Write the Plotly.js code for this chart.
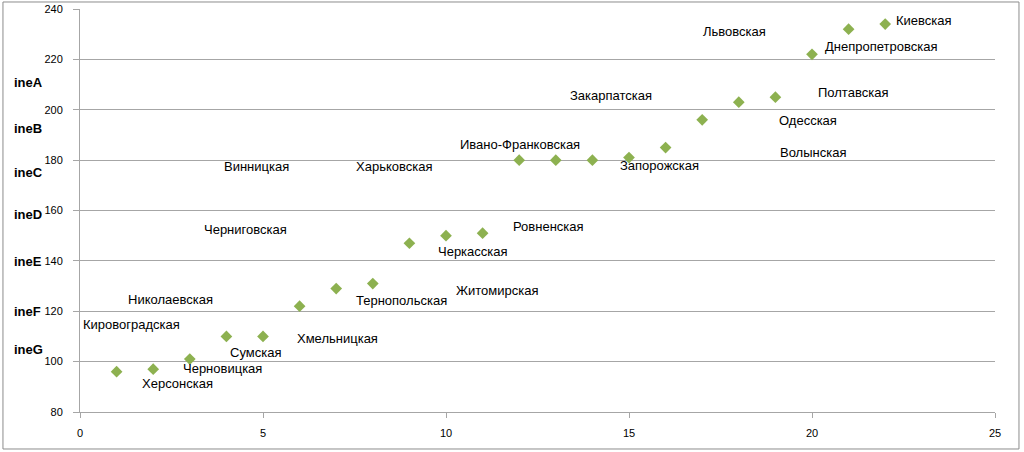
<!DOCTYPE html>
<html>
<head>
<meta charset="utf-8">
<script src="https://cdn.plot.ly/plotly-3.0.1.min.js"></script>
<style>html,body{margin:0;padding:0;background:#fff}#chart{width:1024px;height:452px}</style>
</head>
<body>
<div id="chart"></div>
<script>
// Data points
const xValues = [1,2,3,4,5,6,7,8,9,10,11,12,13,14,15,16,17,18,19,20,21,22];
const yValues = [96,97,101,110,110,122,129,131,147,150,151,180,180,180,181,185,196,203,205,222,232,234];

// Region labels (text) and their anchor positions in data units
const labelNames = ["Киевская","Днепропетровская","Львовская","Закарпатская","Полтавская","Одесская","Волынская","Запорожская","Ивано-Франковская","Харьковская","Винницкая","Черниговская","Ровненская","Черкасская","Житомирская","Тернопольская","Николаевская","Кировоградская","Хмельницкая","Сумская","Черновицкая","Херсонская"];
const labelX = [23.06,21.88,17.88,14.51,21.11,19.88,20.02,15.83,12.02,8.57,4.82,4.52,12.79,10.73,11.39,8.79,2.46,1.40,7.04,4.79,3.89,2.66];
const labelY = [235.6,225.3,230.9,205.5,206.7,195.9,183.2,177.7,186.4,177.3,177.3,152.3,153.5,143.9,128.4,124.1,124.5,114.6,109.0,103.8,97.1,91.5];

// Left-side row labels
const sideLabels = ["ineA","ineB","ineC","ineD","ineE","ineF","ineG"];
const sideY = [211.0,192.4,174.9,158.6,139.9,120.1,105.0];

// Axis ticks
const xTicks = [0,5,10,15,20,25];
const yTicks = [80,100,120,140,160,180,200,220,240];

const font = "Liberation Sans, Arial, sans-serif";

const annotations = [];
labelNames.forEach((t,i)=>annotations.push({
  x: labelX[i], y: labelY[i], xref:'x', yref:'y', text: t, showarrow:false,
  font:{family:font,size:13,color:'#000'}, xanchor:'center', yanchor:'middle'
}));
sideLabels.forEach((t,i)=>annotations.push({
  x: -0.074, y: sideY[i], xref:'paper', yref:'y', text: '<b>'+t+'</b>', showarrow:false,
  font:{family:font,size:13,color:'#000'}, xanchor:'left', yanchor:'middle'
}));

const trace = {
  x: xValues, y: yValues, type:'scatter', mode:'markers',
  marker:{symbol:'diamond', size:9, color:'#8db150'},
  hoverinfo:'x+y'
};

const layout = {
  width:1024, height:452,
  margin:{l:80, r:29, t:9, b:40},
  paper_bgcolor:'#fff', plot_bgcolor:'#fff',
  showlegend:false,
  xaxis:{range:[0,25], tickvals:xTicks, ticktext:xTicks.map(String), showgrid:false, zeroline:false,
    showline:true, linecolor:'#a6a6a6', linewidth:1, ticks:'outside', ticklen:5, tickcolor:'#a6a6a6',
    ticklabelstandoff:6,
    tickfont:{family:font,size:11,color:'#000'}, fixedrange:true},
  yaxis:{range:[80,240], tickvals:yTicks, ticktext:yTicks.map(String), showgrid:true, gridcolor:'#a6a6a6', gridwidth:1,
    zeroline:false, showline:true, linecolor:'#a6a6a6', linewidth:1, ticks:'outside', ticklen:6, tickcolor:'#a6a6a6',
    ticklabelstandoff:8,
    tickfont:{family:font,size:11,color:'#000'}, fixedrange:true},
  annotations: annotations,
  shapes:[{type:'rect', xref:'paper', yref:'paper', x0:-0.0842, x1:1.0262, y0:-0.0918, y1:1.0174,
    line:{color:'#8c8c8c', width:1}, fillcolor:'rgba(0,0,0,0)'}]
};

Plotly.newPlot('chart',[trace],layout,{displayModeBar:false, staticPlot:true});
</script>
</body>
</html>
